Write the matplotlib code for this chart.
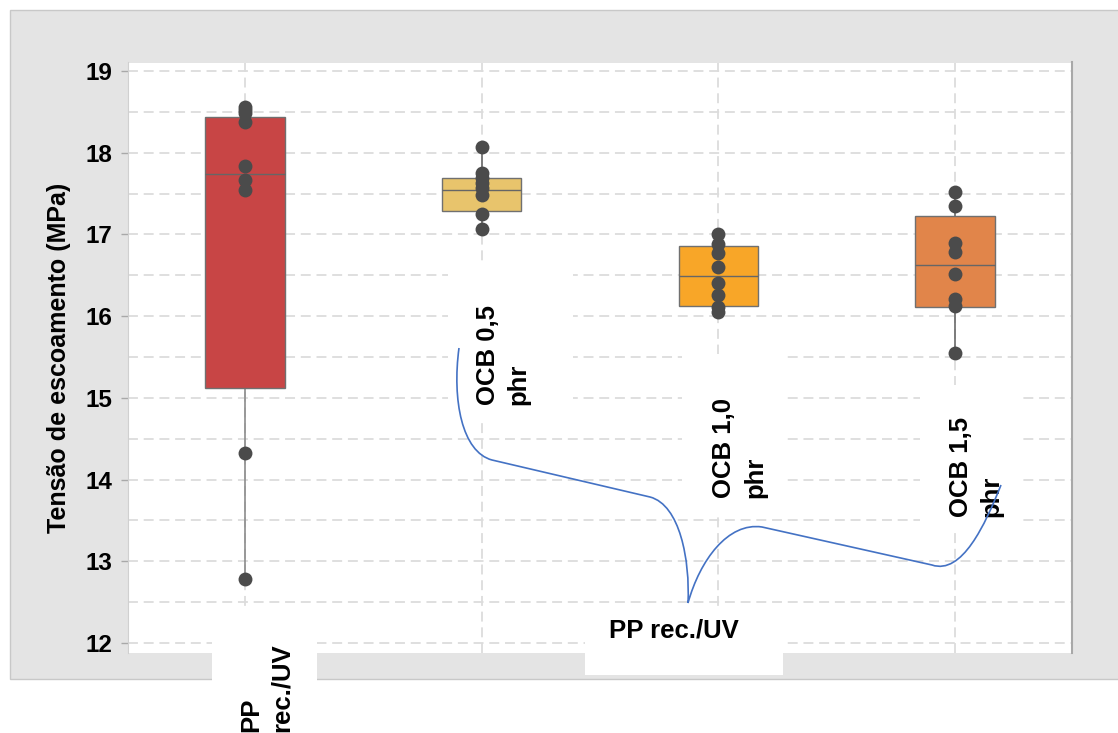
import numpy as np
import matplotlib
matplotlib.use('Agg')
import matplotlib.pyplot as plt
from matplotlib.patches import Rectangle, PathPatch
from matplotlib.path import Path
from matplotlib.transforms import blended_transform_factory

plt.rcParams['font.family'] = ['Liberation Sans', 'DejaVu Sans']
plt.rcParams['font.weight'] = 'bold'

W, H = 1118, 733

# dados
categorias = ['PP\nrec./UV', 'OCB 0,5\nphr', 'OCB 1,0\nphr', 'OCB 1,5\nphr']
cores = ['#c84545', '#e8c46c', '#f8a628', '#e1854a']

q1 = [15.12, 17.29, 16.13, 16.11]
mediana = [17.74, 17.54, 16.49, 16.63]
q3 = [18.44, 17.69, 16.86, 17.23]
whis_lo = [12.78, 17.07, 16.05, 15.55]
whis_hi = [18.56, 18.07, 17.00, 17.52]

pp_uv = [18.56, 18.52, 18.49, 18.37, 17.84, 17.67, 17.54, 14.32, 12.78]
ocb05 = [18.07, 17.75, 17.69, 17.63, 17.57, 17.48, 17.25, 17.07]
ocb10 = [17.00, 16.88, 16.77, 16.60, 16.40, 16.26, 16.11, 16.05]
ocb15 = [17.52, 17.35, 16.90, 16.78, 16.51, 16.21, 16.12, 15.55]
pontos = [pp_uv, ocb05, ocb10, ocb15]

def px(x, y):
    # pixel -> fracao da figura
    return x / W, 1 - y / H

fig = plt.figure(figsize=(W / 100, H / 100), dpi=100)

# painel cinza de fundo
x0, y0 = px(10, 679)
fig.add_artist(Rectangle((x0, y0), 1.2, (679 - 10) / H, transform=fig.transFigure,
                         facecolor='#e4e4e4', edgecolor='#c8c8c8', lw=1, zorder=-1))

ax = fig.add_axes([128 / W, 1 - 652.7 / H, (1072 - 128) / W, (652.7 - 62.5) / H])
ax.set_facecolor('white')

stats = []
for i in range(4):
    stats.append(dict(q1=q1[i], med=mediana[i], q3=q3[i],
                      whislo=whis_lo[i], whishi=whis_hi[i], fliers=[]))
bp = ax.bxp(stats, positions=range(4), widths=0.335, patch_artist=True,
            showcaps=False,
            boxprops=dict(edgecolor='#707070', linewidth=1),
            medianprops=dict(color='#666666', linewidth=1),
            whiskerprops=dict(color='#6a6a6a', linewidth=1.2))
for patch, c in zip(bp['boxes'], cores):
    patch.set_facecolor(c)
    patch.set_zorder(2)
for w in bp['whiskers']:
    w.set_zorder(1.5)
# bigode do primeiro grupo mais claro
bp['whiskers'][0].set_color('#8c8c8c')
bp['whiskers'][1].set_color('#8c8c8c')

for i, vals in enumerate(pontos):
    ax.scatter(np.full(len(vals), i), vals, s=100, color='#4b4b4b', zorder=3, linewidths=0)

ax.set_xlim(-0.494, 3.494)
ax.set_ylim(11.881, 19.104)
ax.set_yticks(range(12, 20))
ax.set_yticks(np.arange(12.5, 19, 1.0), minor=True)
ax.set_xticks(range(4))
ax.set_xticklabels([])
ax.tick_params(axis='x', length=0)
ax.tick_params(axis='y', which='major', length=5, width=1, color='#a8a8a8',
               labelsize=17.5, pad=6)
ax.tick_params(axis='y', which='minor', length=0)
for lab in ax.get_yticklabels():
    lab.set_fontweight('bold')

ax.grid(True, axis='y', which='both', color='#dcdcdc', linewidth=1.3, linestyle=(0, (5.5, 3.2)))
ax.grid(True, axis='x', color='#dcdcdc', linewidth=1.3, linestyle=(0, (5.5, 3.2)))
ax.set_axisbelow(True)

for s in ['top', 'bottom']:
    ax.spines[s].set_visible(False)
ax.spines['left'].set_color('#d0d0d0')
ax.spines['right'].set_color('#a8a8a8')
ax.spines['right'].set_linewidth(1.5)

ax.set_ylabel('Tensão de escoamento (MPa)', fontsize=18, fontweight='bold', labelpad=11)

# caixas brancas dos rotulos
caixas = [(212, 610, 317, 745), (448, 262, 573, 418), (682, 354, 787, 515),
          (920, 385, 1020, 528), (585, 607, 783, 675)]
for (a, b, c, d) in caixas:
    xa, ya = px(a, d)
    fig.add_artist(Rectangle((xa, ya), (c - a) / W, (d - b) / H, transform=fig.transFigure,
                             facecolor='white', edgecolor='none', zorder=1))

# rotulos das categorias (rotacionados)
blend = blended_transform_factory(ax.transData, fig.transFigure)
base_y = [732, 405, 498, 517]
for i, lab in enumerate(categorias):
    fig.text(i + 0.09, 1 - base_y[i] / H, lab, transform=blend, rotation=90,
             ha='center', va='bottom', multialignment='left', fontsize=18.5,
             fontweight='bold', linespacing=1.35, zorder=2)

fig.text(*px(674, 631), 'PP rec./UV', ha='center', va='center', fontsize=18.5,
         fontweight='bold', zorder=2)

# chave azul
verts = [(459, 348), (452, 400), (462, 452), (492, 460),
         (650, 497),
         (680, 505), (690, 560), (688, 603),
         (700, 560), (728, 522), (762, 527),
         (932, 565),
         (962, 575), (985, 525), (1001, 485)]
codes = [Path.MOVETO, Path.CURVE4, Path.CURVE4, Path.CURVE4,
         Path.LINETO,
         Path.CURVE4, Path.CURVE4, Path.CURVE4,
         Path.CURVE4, Path.CURVE4, Path.CURVE4,
         Path.LINETO,
         Path.CURVE4, Path.CURVE4, Path.CURVE4]
path = Path([px(x, y) for x, y in verts], codes)
fig.add_artist(PathPatch(path, transform=fig.transFigure, fill=False,
                         edgecolor='#4472c4', lw=1.2, zorder=3))

fig.savefig('out.png', dpi=100)
